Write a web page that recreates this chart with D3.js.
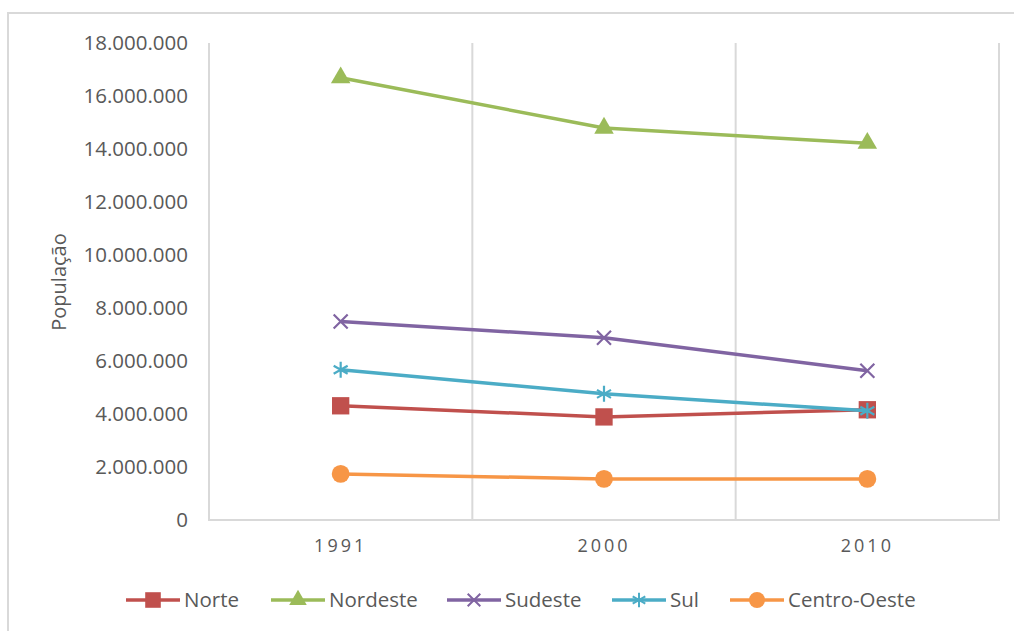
<!DOCTYPE html>
<html>
<head>
<meta charset="utf-8">
<script src="https://cdn.jsdelivr.net/npm/d3@7"></script>
<style>
  html, body { margin: 0; padding: 0; background: #fff; }
  svg { display: block; }
  text { font-family: "Open Sans", "Liberation Sans", sans-serif; fill: #595959; }
</style>
</head>
<body>
<svg id="chart" width="1014" height="631"></svg>
<script>
// Population by region of Brazil
const years = ["1991", "2000", "2010"];
const seriesNames = ["Norte", "Nordeste", "Sudeste", "Sul", "Centro-Oeste"];
const norte = [4310000, 3890000, 4160000];
const nordeste = [16690000, 14790000, 14220000];
const sudeste = [7490000, 6880000, 5630000];
const sul = [5670000, 4760000, 4120000];
const centroOeste = [1740000, 1550000, 1550000];
const yTicks = [0, 2000000, 4000000, 6000000, 8000000, 10000000, 12000000, 14000000, 16000000, 18000000];
const colors = ["#C0504D", "#9BBB59", "#8064A2", "#4BACC6", "#F79646"];
const symbols = ["square", "triangle", "cross", "star", "circle"];

const series = seriesNames.map((name, i) => ({
  name,
  values: [norte, nordeste, sudeste, sul, centroOeste][i],
  color: colors[i],
  symbol: symbols[i]
}));

const svg = d3.select("#chart");
const gridColor = "#d9d9d9";

// outer chart frame
svg.append("rect")
  .attr("x", 8).attr("y", 13)
  .attr("width", 1020).attr("height", 640)
  .attr("fill", "none").attr("stroke", gridColor).attr("stroke-width", 2);

const plot = { left: 209, right: 999, top: 43, bottom: 520 };

const x = d3.scaleBand().domain(years).range([plot.left, plot.right]).padding(0);
const y = d3.scaleLinear().domain([0, 18000000]).range([plot.bottom, plot.top]);

const ptBR = d3.formatLocale({ decimal: ",", thousands: ".", grouping: [3], currency: ["R$", ""] });
const fmt = ptBR.format(",d");

// vertical gridlines between categories
const bounds = years.map(d => x(d)).concat([x(years[years.length - 1]) + x.bandwidth()]);
svg.append("g").selectAll("line").data(bounds).join("line")
  .attr("x1", d => d).attr("x2", d => d)
  .attr("y1", plot.top).attr("y2", plot.bottom)
  .attr("stroke", gridColor).attr("stroke-width", 2);

// x axis baseline
svg.append("line")
  .attr("x1", plot.left - 1).attr("x2", plot.right + 1)
  .attr("y1", plot.bottom).attr("y2", plot.bottom)
  .attr("stroke", gridColor).attr("stroke-width", 2);

// y axis
const yAxis = d3.axisLeft(y).tickValues(yTicks).tickFormat(fmt).tickSize(0).tickPadding(21);
const gy = svg.append("g").attr("transform", `translate(${plot.left},0)`).call(yAxis);
gy.select(".domain").remove();
gy.selectAll("text").attr("font-size", 20.5).style("fill", "#595959")
  .attr("font-family", "'Open Sans', sans-serif").attr("dy", "0.32em");

// x axis labels
const xAxis = d3.axisBottom(x).tickSize(0).tickPadding(19);
const gx = svg.append("g").attr("transform", `translate(0,${plot.bottom})`).call(xAxis);
gx.select(".domain").remove();
gx.selectAll("text").attr("font-size", 18).attr("letter-spacing", 3).style("fill", "#595959")
  .attr("font-family", "'Open Sans', sans-serif");

// y axis title
svg.append("text")
  .attr("transform", `translate(66,282) rotate(-90)`)
  .attr("text-anchor", "middle")
  .attr("font-size", 20)
  .text("População");

function markerPath(sym) {
  switch (sym) {
    case "square": return d3.symbol(d3.symbolSquare, 300)();
    case "triangle": return d3.symbol(d3.symbolTriangle, 165)();
    case "circle": return d3.symbol(d3.symbolCircle, 250)();
    case "cross": return "M-7,-7L7,7M-7,7L7,-7";
    case "star": return "M0,-8L0,8M-7,-4L7,4M-7,4L7,-4";
  }
}

function drawMarker(g, s, cx, cy, scale = 1) {
  const p = g.append("path")
    .attr("d", markerPath(s.symbol))
    .attr("transform", `translate(${cx},${cy}) scale(${scale})`);
  if (s.symbol === "cross" || s.symbol === "star") {
    p.attr("fill", "none").attr("stroke", s.color).attr("stroke-width", 2.2);
  } else {
    p.attr("fill", s.color);
  }
}

const line = d3.line()
  .x((d, i) => x(years[i]) + x.bandwidth() / 2)
  .y(d => y(d));

const gs = svg.append("g");
series.forEach(s => {
  const g = gs.append("g");
  g.append("path")
    .attr("d", line(s.values))
    .attr("fill", "none")
    .attr("stroke", s.color)
    .attr("stroke-width", 3.5)
    .attr("stroke-linejoin", "round");
  s.values.forEach((v, i) => drawMarker(g, s, x(years[i]) + x.bandwidth() / 2, y(v)));
});

// legend
const legendX = [126, 271, 447, 612, 730];
const legendY = 600;
const lg = svg.append("g");
series.forEach((s, i) => {
  const g = lg.append("g");
  g.append("line")
    .attr("x1", legendX[i]).attr("x2", legendX[i] + 54)
    .attr("y1", legendY).attr("y2", legendY)
    .attr("stroke", s.color).attr("stroke-width", 3.5);
  drawMarker(g, s, legendX[i] + 27, legendY, 0.9);
  g.append("text")
    .attr("x", legendX[i] + 58).attr("y", legendY)
    .attr("dy", "0.35em")
    .attr("font-size", 20.5)
    .text(s.name);
});
</script>
</body>
</html>
